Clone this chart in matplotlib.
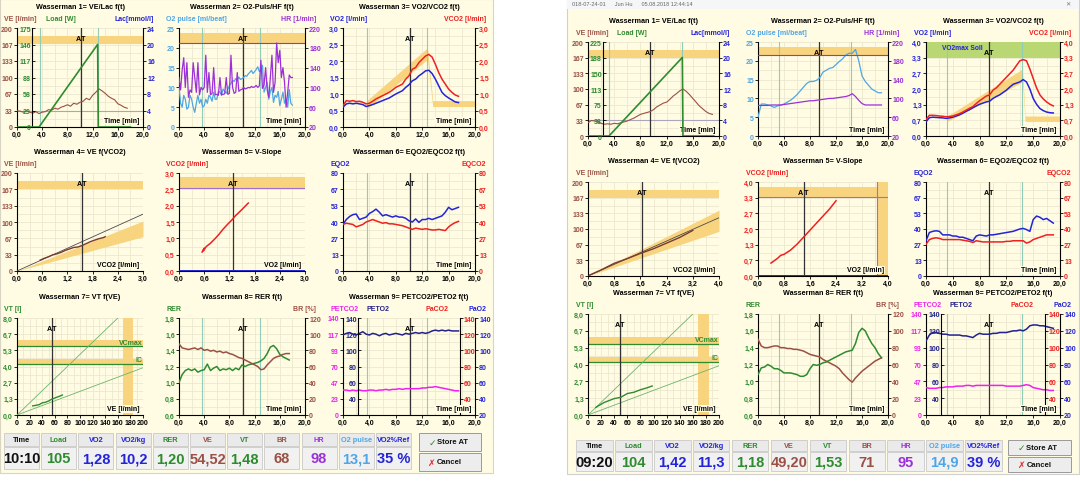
import numpy as np
import matplotlib.pyplot as plt
from matplotlib.patches import Rectangle
from matplotlib.ticker import AutoMinorLocator

plt.rcParams['font.family'] = ['Liberation Sans', 'DejaVu Sans']
plt.rcParams['font.weight'] = 'bold'

W, H = 1080, 485

CREAM = '#FFFCE3'
GRIDC = '#ECE8CF'
BAND = '#F8D47F'
MARK = '#8FCDB8'
ATC = '#333333'
GREEN = '#2E8B2E'
BROWN = '#9A5044'
BLUE = '#2323D8'
LBLUE = '#4EA6E6'
PURPLE = '#9B30D9'
RED = '#EE2020'
MAG = '#F020F0'
NAVY = '#22228C'
OLIVE = '#B9D874'

# ---- shared axis labels ----
TIME_LABELS = ['0,0', '4,0', '8,0', '12,0', '16,0', '20,0']
VE_LABELS = ['0', '33', '67', '100', '133', '167', '200']
LAC_LABELS = ['0', '4', '8', '12', '16', '20', '24']
O2P_LABELS = ['0', '5', '10', '15', '20', '25']
HR_LABELS = ['20', '60', '100', '140', '180', '220']
EQ_LABELS = ['0', '13', '27', '40', '53', '67', '80']
VT_LABELS = ['0,0', '1,3', '2,7', '4,0', '5,3', '6,7', '8,0']
VE_X_LABELS = ['0', '20', '40', '60', '80', '100', '120', '140', '160', '180', '200']
RER_LABELS = ['0,6', '0,8', '1,0', '1,2', '1,4', '1,6', '1,8']
BR_LABELS = ['0', '20', '40', '60', '80', '100', '120']
PETCO2_LABELS = ['0', '23', '47', '70', '93', '117', '140']
PO2_LABELS = ['', '40', '60', '80', '100', '120', '140']
PAO2_LABELS = ['20', '40', '60', '80', '100', '120', '140']
TABLE_HEADS = ['Time', 'Load', 'VO2', 'VO2/kg', 'RER', 'VE', 'VT', 'BR', 'HR', 'O2 pulse', 'VO2%Ref']
TABLE_COLORS = ['#111111', GREEN, BLUE, BLUE, GREEN, BROWN, GREEN, BROWN, PURPLE, LBLUE, BLUE]

# VT panel references (same for both tests)
VCMAX_BAND = [5.6, 6.2]
IC_BAND = [4.15, 4.6]
VE_MAX_BAND = [168, 184]
VT_LINE1_VE = [0, 160]
VT_LINE1_VT = [0, 8.0]
VT_LINE2_VE = [0, 200]
VT_LINE2_VT = [0, 3.9]

# ---- test 1 (left screen) ----
t1_at = 10.1
t1_marks = [3.6, 12.8]
t1_ve = [33, 32, 30, 33, 30, 28, 31, 27, 30, 31, 35, 34, 38, 36, 40, 42, 45, 42, 48, 46,
         50, 52, 58, 55, 64, 70, 77, 73, 68, 62, 58, 55, 47, 44, 40, 38]
t1_load_t = [0, 3.5, 12.8, 12.9, 18.0]
t1_load_w = [0, 0, 146, 0, 0]
t1_load_labels = ['0', '29', '58', '88', '117', '146', '175']
t1_hr = [120, 95, 135, 160, 100, 150, 80, 95, 90, 150, 120, 90, 150, 85, 100, 95,
         100, 165, 90, 130, 85, 88, 140, 85, 86, 84, 120, 85, 86, 87, 120, 86,
         88, 165, 100, 88, 90, 130, 92, 95, 96, 100, 97, 98, 100, 99, 102, 100,
         101, 104, 100, 103, 155, 98, 105, 140, 95, 80, 120, 165, 90, 110, 190, 150,
         175, 120, 140, 110, 60, 90, 125, 120, 120]
t1_o2p = [10, 6, 5, 8, 7, 4.5, 5, 8, 7, 5, 3.7, 6, 8, 6, 7, 5,
          5.4, 7, 6, 8, 7.5, 6.5, 8.8, 7, 7, 9, 8.8, 8, 9.6, 9, 8.5, 9.5,
          10.5, 11, 11.8, 11.5, 12.2, 12, 12.6, 12, 12.2, 12.5, 13, 12.8, 13.4, 13.8, 14.3, 13.5,
          14, 14.5, 15.2, 14, 14.5, 15.6, 8.8, 10, 11.3, 7, 9, 10, 6.2, 8,
          7.5, 9, 5.4, 7, 8.8, 6, 7, 5, 9.5, 6, 5.5]
t1_hr_max = 190
t1_o2p_band = [21.3, 23.7]
t1_vco2 = [0.65, 0.8, 0.78, 0.8, 0.77, 0.78, 0.75, 0.7, 0.72, 0.78, 0.85, 0.9, 0.95, 1.0, 1.05, 1.12,
           1.2, 1.25, 1.3, 1.45, 1.55, 1.75, 1.8, 1.95, 2.05, 2.15, 2.2, 2.12, 1.9, 1.65, 1.45, 1.3,
           1.15, 1.05, 0.97, 0.93]
t1_vo2 = [0.6, 0.7, 0.72, 0.7, 0.72, 0.7, 0.68, 0.62, 0.65, 0.68, 0.72, 0.76, 0.8, 0.84, 0.88, 0.94,
          1.0, 1.05, 1.1, 1.2, 1.28, 1.4, 1.45, 1.55, 1.62, 1.7, 1.72, 1.62, 1.45, 1.25, 1.05, 0.95,
          0.88, 0.82, 0.76, 0.74]
t1_vmax = 3.0
t1_v_labels = ['0,0', '0,5', '1,0', '1,5', '2,0', '2,5', '3,0']
t1_vband_t = [3.6, 12.8, 13.6, 20.0]
t1_vband_lo = [0.55, 2.05, 0.62, 0.62]
t1_vband_hi = [0.8, 2.4, 0.8, 0.8]
t1_p4_x_labels = ['0,0', '0,6', '1,2', '1,8', '2,4', '3,0']
t1_p4_vco2 = [0.55, 0.65, 0.75, 0.85, 0.95, 1.05, 1.15, 1.25, 1.35, 1.45, 1.55, 1.65, 1.75, 1.85, 1.95, 2.05, 2.1]
t1_p4_ve = [22, 26, 29, 33, 35, 38, 42, 45, 48, 49, 52, 56, 60, 63, 66, 68, 70]
t1_p4_ref = [0, 116]
t1_p4_band_lo = [0, 70]
t1_p4_band_hi = [0, 102]
t1_p4_at = 1.55
t1_p5_vo2 = [0.55, 0.6, 0.58, 0.65, 0.75, 0.85, 0.95, 1.05, 1.15, 1.25, 1.35, 1.45, 1.55, 1.65]
t1_p5_vco2 = [0.58, 0.7, 0.62, 0.75, 0.85, 0.98, 1.12, 1.28, 1.42, 1.55, 1.7, 1.82, 1.95, 2.08]
t1_p5_band = [2.55, 2.88]
t1_p5_xband = None
t1_p5_at = 1.28
t1_eqo2 = [38, 42, 44.5, 46, 46.5, 42, 43, 44, 47, 48.5, 50.5, 48, 45, 46, 45, 44, 45, 44,
           44, 43, 41, 40, 42.5, 39.7, 42, 42, 43, 42, 43, 44, 45, 48, 52, 50, 51, 52]
t1_eqco2 = [38, 39, 38.5, 38, 36, 37, 38, 40, 41, 42, 41, 40, 39, 39.5, 38.5, 38.5, 38, 37.5,
            37, 36, 35, 34, 35, 34.5, 34, 34.5, 34, 33.5, 33.5, 34, 33.5, 33, 36, 38, 39.5, 40.5]
t1_p7_ve = [25, 30, 35, 40, 45, 50, 55, 60, 65, 70, 72]
t1_p7_vt = [0.75, 0.8, 0.85, 1.0, 1.05, 1.15, 1.3, 1.4, 1.5, 1.6, 1.65]
t1_p7_at = 55
t1_rer = [1.0, 1.1, 1.15, 1.17, 1.15, 1.17, 1.13, 1.15, 1.16, 1.23, 1.15, 1.18, 1.2, 1.15, 1.17, 1.16,
          1.18, 1.15, 1.18, 1.16, 1.22, 1.2, 1.22, 1.23, 1.24, 1.25, 1.27, 1.3, 1.36, 1.44, 1.46, 1.42,
          1.35, 1.32, 1.3, 1.28]
t1_br = [88, 83, 82, 81, 82, 83, 81, 83, 80, 81, 79, 80, 78, 79, 77, 78, 76, 75, 73, 71,
         70, 68, 66, 64, 62, 60, 56, 57, 62, 66, 70, 72, 73, 75, 76, 76]
t1_peto2 = [119, 121, 122, 120, 119, 121, 123, 120, 119, 121, 120, 118, 120, 121, 119, 120, 121, 120,
            119, 121, 120, 121, 122, 121, 122, 121, 122, 124, 125, 124, 125, 124, 125, 124, 124, 124]
t1_petco2 = [36, 36, 35, 36, 35, 36, 35, 35, 36, 36, 35, 36, 36, 37, 36, 37, 37, 38,
             37, 38, 38, 38, 38, 38, 39, 39, 40, 40, 41, 40, 39, 38, 37, 36, 35, 35]
t1_table = ['10:10', '105', '1,28', '10,2', '1,20', '54,52', '1,48', '68', '98', '13,1', '35 %']

# ---- test 2 (right screen) ----
t2_at = 9.4
t2_marks = [3.2, 14.3]
t2_ve = [28, 33, 32, 30, 27, 25, 26, 25, 27, 26, 28, 30, 32, 35, 38, 42, 46, 48, 50, 52,
         56, 62, 66, 70, 72, 78, 85, 90, 96, 100, 95, 88, 80, 72, 64, 58, 52, 48, 46]
t2_load_t = [0, 3.2, 14.4, 14.5, 19.2]
t2_load_w = [0, 0, 188, 0, 0]
t2_load_labels = ['0', '38', '75', '113', '150', '188', '225']
t2_hr = [85, 85, 85, 85, 86, 86, 86, 86, 87, 88, 89, 90, 91, 92, 93, 94, 95, 95, 96, 97,
         98, 99, 100, 100, 101, 102, 103, 104, 106, 110, 104, 96, 89, 86, 86, 86, 86, 86, 86]
t2_o2p = [5, 8.5, 8.5, 8.3, 8, 7.6, 8, 8.2, 8.5, 9, 9.5, 10.2, 11, 12, 13, 14, 14.5, 14.5, 14.8, 15.5,
          17, 17.5, 18, 18.2, 19, 19.8, 20.5, 21.5, 22, 22, 23, 20, 16, 14.5, 13.5, 12.5, 12, 11.5, 11.5]
t2_hr_max = 193
t2_o2p_band = [21.6, 23.8]
t2_vco2 = [0.7, 0.88, 0.88, 0.87, 0.85, 0.84, 0.82, 0.83, 0.85, 0.9, 0.95, 1.02, 1.1, 1.18, 1.25, 1.38,
           1.5, 1.6, 1.7, 1.75, 1.95, 2.05, 2.2, 2.35, 2.5, 2.65, 2.8, 3.0, 3.2, 3.25, 3.2, 2.85,
           2.45, 2.05, 1.75, 1.58, 1.45, 1.35, 1.28]
t2_vo2 = [0.6, 0.78, 0.8, 0.79, 0.78, 0.77, 0.75, 0.77, 0.8, 0.85, 0.9, 0.97, 1.05, 1.12, 1.2, 1.28,
          1.35, 1.4, 1.45, 1.48, 1.6, 1.68, 1.75, 1.85, 1.95, 2.08, 2.2, 2.25, 2.3, 2.4, 2.3, 2.0,
          1.6, 1.35, 1.17, 1.08, 1.02, 0.99, 0.98]
t2_vmax = 4.0
t2_v_labels = ['0,0', '0,7', '1,3', '2,0', '2,7', '3,3', '4,0']
t2_vband_t = [3.2, 14.4, 14.8, 20.0]
t2_vband_lo = [0.62, 2.3, 0.62, 0.62]
t2_vband_hi = [0.85, 2.85, 0.85, 0.85]
t2_vo2max_band = [3.3, 4.0]
t2_p4_x_labels = ['0,0', '0,8', '1,6', '2,4', '3,2', '4,0']
t2_p4_vco2 = [0.05, 0.4, 0.8, 1.2, 1.6, 2.0, 2.4, 2.8, 3.2]
t2_p4_ve = [2, 13, 27, 37, 48, 58, 70, 82, 97]
t2_p4_ref = [0, 124]
t2_p4_band_lo = [0, 95]
t2_p4_band_hi = [0, 140]
t2_p4_at = 1.65
t2_p5_vo2 = [0.4, 0.6, 0.7, 0.8, 1.0, 1.2, 1.4, 1.6, 1.8, 2.0, 2.2, 2.4]
t2_p5_vco2 = [0.55, 0.75, 0.88, 0.92, 1.1, 1.35, 1.65, 1.95, 2.25, 2.55, 2.85, 3.2]
t2_p5_band = [3.38, 3.78]
t2_p5_xband = [3.65, 4.0]
t2_p5_at = 1.4
t2_eqo2 = [30, 37, 38, 38.5, 38, 35, 35, 35, 34, 34, 33, 33, 32, 31, 30, 34, 35, 34.5, 34, 35,
           35, 35.5, 36, 36.5, 37, 37.5, 38, 39, 40, 40.5, 39.5, 38, 48, 51, 50, 48, 49, 47, 45]
t2_eqco2 = [27, 31, 32, 32.5, 32, 31, 31, 31, 31, 31, 31, 30.5, 30, 29.5, 28.5, 30, 29.5, 29, 29, 29,
            29, 29, 29, 29, 29.5, 29.5, 30, 30, 30, 30, 28, 29, 31, 32, 33, 34, 35, 35, 35]
t2_p7_ve = [12, 15, 20, 25, 30, 40, 50, 55, 60, 70, 80, 90, 98]
t2_p7_vt = [0.6, 0.7, 0.85, 1.0, 1.1, 1.3, 1.4, 1.55, 1.7, 1.8, 2.0, 2.15, 2.3]
t2_p7_at = 49
t2_rer = [1.08, 1.16, 1.17, 1.2, 1.18, 1.15, 1.15, 1.13, 1.1, 1.1, 1.1, 1.09, 1.08, 1.06, 1.06, 1.08,
          1.15, 1.2, 1.19, 1.2, 1.22, 1.23, 1.25, 1.27, 1.29, 1.31, 1.33, 1.35, 1.36, 1.37, 1.45, 1.58,
          1.63, 1.6, 1.52, 1.45, 1.4, 1.33, 1.28]
t2_br = [90, 82, 80, 80, 81, 82, 82, 80, 80, 79, 79, 78, 78, 77, 76, 74, 72, 71, 70, 69,
         66, 64, 62, 60, 58, 55, 50, 46, 42, 39, 44, 48, 52, 55, 58, 61, 64, 66, 68]
t2_peto2 = [108, 115, 118, 118, 117, 116, 116, 115, 115, 115, 115, 114, 114, 113, 112, 115, 117, 116,
            116, 116, 117, 117, 118, 118, 118, 119, 120, 120, 121, 120, 122, 126, 127, 127, 126, 126,
            125, 124, 123]
t2_petco2 = [38, 37, 37, 37, 38, 38, 39, 39, 39, 40, 40, 40, 41, 41, 40, 41, 41, 41, 41, 41,
             41, 41, 41, 41, 40, 40, 40, 40, 40, 41, 42, 41, 38, 37, 36, 35, 35, 34, 34]
t2_table = ['09:20', '104', '1,42', '11,3', '1,18', '49,20', '1,53', '71', '95', '14,9', '39 %']

test1 = dict(at=t1_at, marks=t1_marks, ve=t1_ve, load_t=t1_load_t, load_w=t1_load_w,
             load_labels=t1_load_labels, hr=t1_hr, hr_step=0.25, o2p=t1_o2p, o2p_step=0.25,
             hr_max=t1_hr_max, o2p_band=t1_o2p_band, vco2=t1_vco2, vo2=t1_vo2, vmax=t1_vmax,
             v_labels=t1_v_labels, vband_t=t1_vband_t, vband_lo=t1_vband_lo, vband_hi=t1_vband_hi,
             vo2max_band=None, p4_x_labels=t1_p4_x_labels, p4_vco2=t1_p4_vco2, p4_ve=t1_p4_ve,
             p4_ref=t1_p4_ref, p4_band_lo=t1_p4_band_lo, p4_band_hi=t1_p4_band_hi, p4_at=t1_p4_at,
             p5_vo2=t1_p5_vo2, p5_vco2=t1_p5_vco2, p5_band=t1_p5_band, p5_xband=t1_p5_xband,
             p5_at=t1_p5_at, eqo2=t1_eqo2, eqco2=t1_eqco2, p7_ve=t1_p7_ve, p7_vt=t1_p7_vt,
             p7_at=t1_p7_at, rer=t1_rer, br=t1_br, peto2=t1_peto2, petco2=t1_petco2, table=t1_table)
test2 = dict(at=t2_at, marks=t2_marks, ve=t2_ve, load_t=t2_load_t, load_w=t2_load_w,
             load_labels=t2_load_labels, hr=t2_hr, hr_step=0.5, o2p=t2_o2p, o2p_step=0.5,
             hr_max=t2_hr_max, o2p_band=t2_o2p_band, vco2=t2_vco2, vo2=t2_vo2, vmax=t2_vmax,
             v_labels=t2_v_labels, vband_t=t2_vband_t, vband_lo=t2_vband_lo, vband_hi=t2_vband_hi,
             vo2max_band=t2_vo2max_band, p4_x_labels=t2_p4_x_labels, p4_vco2=t2_p4_vco2, p4_ve=t2_p4_ve,
             p4_ref=t2_p4_ref, p4_band_lo=t2_p4_band_lo, p4_band_hi=t2_p4_band_hi, p4_at=t2_p4_at,
             p5_vo2=t2_p5_vo2, p5_vco2=t2_p5_vco2, p5_band=t2_p5_band, p5_xband=t2_p5_xband,
             p5_at=t2_p5_at, eqo2=t2_eqo2, eqco2=t2_eqco2, p7_ve=t2_p7_ve, p7_vt=t2_p7_vt,
             p7_at=t2_p7_at, rer=t2_rer, br=t2_br, peto2=t2_peto2, petco2=t2_petco2, table=t2_table)

fig = plt.figure(figsize=(W / 100, H / 100), dpi=100)
fig.patch.set_facecolor('white')


def fig_rect(x0, y0, x1, y1, **kw):
    fig.patches.append(Rectangle((x0 / W, 1 - y1 / H), (x1 - x0) / W, (y1 - y0) / H,
                                 transform=fig.transFigure, figure=fig, zorder=-10, **kw))


def tgrid(vals, step=0.5):
    return np.arange(len(vals)) * step


def panel(box, title, xlim, xlabels, ylim, ylabels, ycolor):
    x0, y0, x1, y1 = box
    ax = fig.add_axes([x0 / W, 1 - y1 / H, (x1 - x0) / W, (y1 - y0) / H])
    ax.set_facecolor(CREAM)
    ax.set_xlim(xlim)
    ax.set_ylim(ylim)
    ax.set_xticks(np.linspace(xlim[0], xlim[1], len(xlabels)), xlabels)
    ax.set_yticks(np.linspace(ylim[0], ylim[1], len(ylabels)), ylabels)
    ax.xaxis.set_minor_locator(AutoMinorLocator(2))
    ax.yaxis.set_minor_locator(AutoMinorLocator(2))
    ax.grid(True, which='both', color=GRIDC, lw=0.6)
    ax.set_axisbelow(True)
    for s in ('top', 'right'):
        ax.spines[s].set_visible(False)
    for s in ('left', 'bottom'):
        ax.spines[s].set_linewidth(0.8)
    ax.tick_params(labelsize=5, length=2, width=0.6, pad=1)
    ax.tick_params(which='minor', length=0)
    ax.tick_params(axis='y', labelcolor=ycolor)
    ax.annotate(title, (0.5, 1), xycoords='axes fraction', xytext=(0, 15.5),
                textcoords='offset points', ha='center', va='center', fontsize=5.2)
    return ax


def twin(ax, ylim, ylabels, color, side='right', inner=False):
    t = ax.twinx()
    t.set_ylim(ylim)
    t.set_yticks(np.linspace(ylim[0], ylim[1], len(ylabels)), ylabels)
    if side == 'left':
        t.yaxis.tick_left()
    for s in ('top', 'bottom', 'left' if side == 'right' else 'right'):
        t.spines[s].set_visible(False)
    t.spines[side].set_linewidth(0.8)
    if inner:
        # second axis drawn just inside the frame, as in the original software
        t.spines[side].set_position(('outward', -11))
        t.tick_params(axis='y', direction='in' if side == 'left' else 'out')
    t.tick_params(axis='y', labelsize=5, length=2, width=0.6, labelcolor=color, pad=1)
    return t


def head(ax, text, color, side='left', dx=0):
    if side == 'left':
        ax.annotate(text, (0, 1), xycoords='axes fraction', xytext=(-9 + dx, 7),
                    textcoords='offset points', ha='left', va='center', fontsize=5, color=color)
    else:
        ax.annotate(text, (1, 1), xycoords='axes fraction', xytext=(8 + dx, 7),
                    textcoords='offset points', ha='right', va='center', fontsize=5, color=color)


def at_line(ax, x):
    ax.axvline(x, color=ATC, lw=0.9, zorder=3)
    tr = ax.get_xaxis_transform()
    ax.text(x, 0.93, 'A', transform=tr, ha='right', va='top', fontsize=5.2, zorder=6)
    ax.text(x, 0.93, 'T', transform=tr, ha='left', va='top', fontsize=5.2, zorder=6)


def markers(ax, d):
    for m in d['marks']:
        ax.axvline(m, color=MARK, lw=0.8, zorder=2)
    at_line(ax, d['at'])


def corner(ax, text):
    ax.text(0.97, 0.03, text, transform=ax.transAxes, ha='right', va='bottom', fontsize=5,
            zorder=7, bbox=dict(fc=CREAM, ec='none', pad=0.3))


def draw_screen(d, cols, rows, tbox, bbox):
    def box(c, r):
        return (cols[c][0], rows[r][0], cols[c][1], rows[r][1])

    tl = (0, 20)
    # 1: VE / Load / Lac
    ax = panel(box(0, 0), 'Wasserman 1= VE/Lac f(t)', tl, TIME_LABELS, (0, 200), VE_LABELS, BROWN)
    axl = twin(ax, (0, float(d['load_labels'][-1])), d['load_labels'], GREEN, 'left', inner=True)
    twin(ax, (0, 24), LAC_LABELS, BLUE, 'right')
    head(ax, 'VE [l/min]', BROWN)
    head(ax, 'Load [W]', GREEN, dx=30)
    head(ax, 'Lac[mmol/l]', BLUE, 'right')
    ax.axhspan(167, 183, color=BAND, lw=0, zorder=1)
    ax.axhline(33, color='#ABA4BE', lw=0.8, zorder=2)
    markers(ax, d)
    ax.plot(tgrid(d['ve']), d['ve'], color=BROWN, lw=0.8, zorder=4)
    axl.plot(d['load_t'], d['load_w'], color=GREEN, lw=1.2, zorder=4)
    corner(ax, 'Time [min]')

    # 2: O2 pulse / HR
    ax = panel(box(1, 0), 'Wasserman 2= O2-Puls/HF f(t)', tl, TIME_LABELS, (0, 25), O2P_LABELS, LBLUE)
    axr = twin(ax, (20, 220), HR_LABELS, PURPLE, 'right')
    head(ax, 'O2 pulse [ml/beat]', LBLUE)
    head(ax, 'HR [1/min]', PURPLE, 'right')
    ax.axhspan(d['o2p_band'][0], d['o2p_band'][1], color=BAND, lw=0, zorder=1)
    axr.axhline(d['hr_max'], color=PURPLE, lw=0.8)
    markers(ax, d)
    ax.plot(tgrid(d['o2p'], d['o2p_step']), d['o2p'], color=LBLUE, lw=0.9, zorder=4)
    axr.plot(tgrid(d['hr'], d['hr_step']), d['hr'], color=PURPLE, lw=0.9)
    corner(axr, 'Time [min]')

    # 3: VO2 / VCO2
    ax = panel(box(2, 0), 'Wasserman 3= VO2/VCO2 f(t)', tl, TIME_LABELS, (0, d['vmax']), d['v_labels'], BLUE)
    axr = twin(ax, (0, d['vmax']), d['v_labels'], RED, 'right')
    head(ax, 'VO2 [l/min]', BLUE)
    head(ax, 'VCO2 [l/min]', RED, 'right')
    if d['vo2max_band'] is not None:
        ax.axhspan(d['vo2max_band'][0], d['vo2max_band'][1], color=OLIVE, lw=0, zorder=1)
        ax.text(d['at'] - 0.9, np.mean(d['vo2max_band']) + 0.1, 'VO2max Soll', color=BLUE,
                fontsize=4.8, ha='right', va='center', zorder=5)
    ax.fill_between(d['vband_t'], d['vband_lo'], d['vband_hi'], color=BAND, lw=0, zorder=1)
    markers(ax, d)
    ax.plot(tgrid(d['vo2']), d['vo2'], color=BLUE, lw=1.1, zorder=4)
    axr.plot(tgrid(d['vco2']), d['vco2'], color=RED, lw=1.1)
    corner(axr, 'Time [min]')

    # 4: VE vs VCO2
    xmax = float(d['p4_x_labels'][-1].replace(',', '.'))
    ax = panel(box(0, 1), 'Wasserman 4= VE f(VCO2)', (0, xmax), d['p4_x_labels'], (0, 200), VE_LABELS, BROWN)
    head(ax, 'VE [l/min]', BROWN)
    ax.axhspan(167, 184, color=BAND, lw=0, zorder=1)
    ax.fill_between([0, xmax], d['p4_band_lo'], d['p4_band_hi'], color=BAND, lw=0, zorder=1)
    ax.plot([0, xmax], d['p4_ref'], color='#4A4A4A', lw=0.6, zorder=3)
    at_line(ax, d['p4_at'])
    ax.plot(d['p4_vco2'], d['p4_ve'], color='#7A3A30', lw=1.0, zorder=4)
    corner(ax, 'VCO2 [l/min]')

    # 5: V-slope
    ax = panel(box(1, 1), 'Wasserman 5= V-Slope', (0, xmax), d['p4_x_labels'], (0, d['vmax']), d['v_labels'], RED)
    head(ax, 'VCO2 [l/min]', RED)
    ax.axhspan(d['p5_band'][0], d['p5_band'][1], color=BAND, lw=0, zorder=1)
    ax.axhline(d['p5_band'][0], color='#A070C8', lw=0.8, zorder=2)
    if d['p5_xband'] is not None:
        ax.axvspan(d['p5_xband'][0], d['p5_xband'][1], color=BAND, lw=0, zorder=1)
        ax.axvline(d['p5_xband'][0], color='#A070C8', lw=0.8, zorder=2)
    ax.axhline(0, color=BLUE, lw=1.4, zorder=3)
    at_line(ax, d['p5_at'])
    ax.plot(d['p5_vo2'], d['p5_vco2'], color=RED, lw=1.1, zorder=4)
    corner(ax, 'VO2 [l/min]')

    # 6: EQO2 / EQCO2
    ax = panel(box(2, 1), 'Wasserman 6= EQO2/EQCO2 f(t)', tl, TIME_LABELS, (0, 80), EQ_LABELS, BLUE)
    axr = twin(ax, (0, 80), EQ_LABELS, RED, 'right')
    head(ax, 'EQO2', BLUE)
    head(ax, 'EQCO2', RED, 'right')
    markers(ax, d)
    ax.plot(tgrid(d['eqo2']), d['eqo2'], color=BLUE, lw=1.1, zorder=4)
    axr.plot(tgrid(d['eqco2']), d['eqco2'], color=RED, lw=1.1)
    corner(axr, 'Time [min]')

    # 7: VT vs VE
    ax = panel(box(0, 2), 'Wasserman 7= VT f(VE)', (0, 200), VE_X_LABELS, (0, 8), VT_LABELS, GREEN)
    head(ax, 'VT [l]', GREEN)
    ax.axhspan(VCMAX_BAND[0], VCMAX_BAND[1], color=BAND, lw=0, zorder=1)
    ax.axhspan(IC_BAND[0], IC_BAND[1], color=BAND, lw=0, zorder=1)
    ax.axvspan(VE_MAX_BAND[0], VE_MAX_BAND[1], color=BAND, lw=0, zorder=1)
    ax.axhline(VCMAX_BAND[0] + 0.05, color=GREEN, lw=0.9, zorder=2)
    ax.axhline(IC_BAND[0] + 0.05, color=GREEN, lw=0.9, zorder=2)
    ax.text(199, VCMAX_BAND[0] + 0.1, 'VCmax', color=GREEN, fontsize=5, ha='right', va='bottom', zorder=5)
    ax.text(199, IC_BAND[0] + 0.1, 'IC', color=GREEN, fontsize=5, ha='right', va='bottom', zorder=5)
    ax.plot(VT_LINE1_VE, VT_LINE1_VT, color='#6CB46C', lw=0.6, zorder=3)
    ax.plot(VT_LINE2_VE, VT_LINE2_VT, color='#6CB46C', lw=0.6, zorder=3)
    at_line(ax, d['p7_at'])
    ax.plot(d['p7_ve'], d['p7_vt'], color=GREEN, lw=1.0, zorder=4)
    corner(ax, 'VE [l/min]')

    # 8: RER / BR
    ax = panel(box(1, 2), 'Wasserman 8= RER f(t)', tl, TIME_LABELS, (0.6, 1.8), RER_LABELS, GREEN)
    axr = twin(ax, (0, 120), BR_LABELS, BROWN, 'right')
    head(ax, 'RER', GREEN)
    head(ax, 'BR [%]', BROWN, 'right')
    markers(ax, d)
    ax.plot(tgrid(d['rer']), d['rer'], color=GREEN, lw=1.1, zorder=4)
    axr.plot(tgrid(d['br']), d['br'], color=BROWN, lw=1.1)
    corner(axr, 'Time [min]')

    # 9: PETCO2 / PETO2
    ax = panel(box(2, 2), 'Wasserman 9= PETCO2/PETO2 f(t)', tl, TIME_LABELS, (0, 140), PETCO2_LABELS, MAG)
    axl = twin(ax, (20, 140), PO2_LABELS, NAVY, 'left', inner=True)
    twin(ax, (20, 140), PO2_LABELS, RED, 'right', inner=True)
    axr = twin(ax, (20, 140), PAO2_LABELS, BLUE, 'right')
    head(ax, 'PETCO2', MAG)
    head(ax, 'PETO2', NAVY, dx=26)
    head(ax, 'PaCO2', RED, 'right', dx=-27)
    head(ax, 'PaO2', BLUE, 'right')
    markers(ax, d)
    axl.plot(tgrid(d['peto2']), d['peto2'], color=NAVY, lw=1.1)
    ax.plot(tgrid(d['petco2']), d['petco2'], color=MAG, lw=1.1, zorder=4)
    corner(axr, 'Time [min]')

    # summary table
    x0, y0, x1, y1 = tbox
    tax = fig.add_axes([x0 / W, 1 - y1 / H, (x1 - x0) / W, (y1 - y0) / H])
    tax.set_xlim(0, len(TABLE_HEADS))
    tax.set_ylim(0, 1)
    tax.axis('off')
    for i, (hd, col, val) in enumerate(zip(TABLE_HEADS, TABLE_COLORS, d['table'])):
        tax.add_patch(Rectangle((i + 0.03, 0.63), 0.94, 0.35, fc='#EAEAEA', ec='#C9C9C9', lw=0.6))
        tax.add_patch(Rectangle((i + 0.03, 0.02), 0.94, 0.59, fc='#F1F1F1', ec='#C9C9C9', lw=0.6))
        tax.text(i + 0.5, 0.80, hd, color=col, fontsize=5.3, ha='center', va='center')
        tax.text(i + 0.5, 0.31, val, color=col, fontsize=10.5, ha='center', va='center')

    x0, y0, x1, y1 = bbox
    bax = fig.add_axes([x0 / W, 1 - y1 / H, (x1 - x0) / W, (y1 - y0) / H])
    bax.set_xlim(0, 1)
    bax.set_ylim(0, 2)
    bax.axis('off')
    for k, (mark, mcol, label) in enumerate([('✗', RED, 'Cancel'), ('✓', GREEN, 'Store AT')]):
        bax.add_patch(Rectangle((0.02, k + 0.04), 0.96, 0.92, fc='#EDEDED', ec='#9A9A9A', lw=0.7))
        bax.text(0.22, k + 0.5, mark, color=mcol, fontsize=6.5, ha='center', va='center')
        bax.text(0.3, k + 0.5, label, color='#111111', fontsize=5.5, ha='left', va='center')


# window backgrounds
fig_rect(0, 0, 493, 474, fc=CREAM, ec='#D8D5C4', lw=0.8)
fig_rect(567, 0, 1079, 475, fc=CREAM, ec='#D0D0D0', lw=0.8)
fig_rect(567, 0, 1079, 10, fc='#F4F6F8', ec='none')
fig.text(572 / W, 1 - 5 / H, '018-07-24-01      Jun Hu      05.08.2018 12:44:14', fontsize=4,
         color='#666666', va='center', ha='left', weight='normal')
fig.text(1068 / W, 1 - 5 / H, '✕', fontsize=4.5, color='#777777', va='center', ha='center')

draw_screen(test1, [(17, 143), (179, 305), (343, 475)], [(29, 128), (174, 272), (319, 416)],
            (3, 433, 412, 471), (418, 433, 482, 473))
draw_screen(test2, [(588, 719), (758, 888), (926, 1060)], [(43, 137), (183, 277), (315, 416)],
            (575, 440, 1003, 473), (1007, 440, 1072, 474))

fig.savefig('out.png', dpi=100, facecolor='white')
